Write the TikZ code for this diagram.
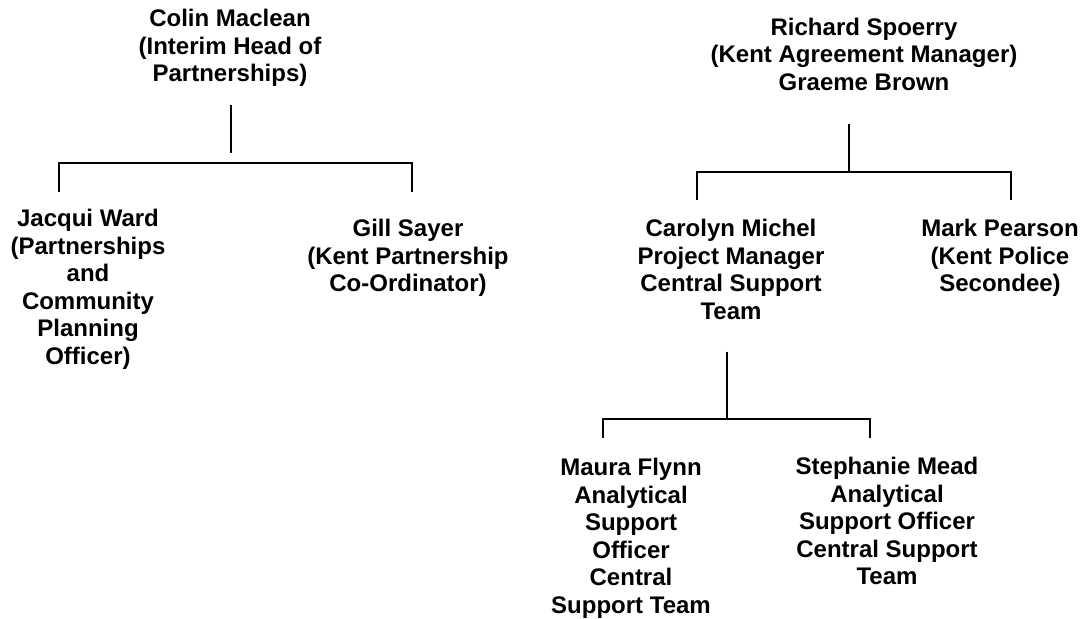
\documentclass[tikz,border=0pt]{standalone}
\usepackage{fontspec}
\setmainfont{Liberation Sans}
\usetikzlibrary{positioning}
\tikzset{
    person/.style = {anchor=north, inner sep=0pt, align=center,
        font=\fontsize{12}{13.75}\selectfont\bfseries,
        execute at begin node=\strut},
    input/.style = {coordinate},
    line/.style = {draw, line width=0.9pt}
}

\begin{document}
\begin{tikzpicture}[x=0.5pt, y=-0.5pt]
    \useasboundingbox (0,0) rectangle (1085,619);
    % left tree
    \node [person, name=colin] at (230,8.75) {Colin Maclean\\(Interim Head of\\Partnerships)};
    \node [person, name=jacqui] at (88,208.75) {Jacqui Ward\\(Partnerships\\and\\Community\\Planning\\Officer)};
    \node [person, name=gill] at (408,218.75) {Gill Sayer\\(Kent Partnership\\Co-Ordinator)};
    \node [input, name=colinout] at (231,105) {};
    \node [input, name=colinend] at (231,153) {};
    \node [input, name=colinbar] at (231,163) {};
    \node [input, name=jacquiin] at (59,192) {};
    \node [input, name=gillin] at (412,192) {};
    \draw [line] (colinout) -- (colinend);
    \draw [line] (jacquiin) |- (colinbar) -| (gillin);
    % right tree
    \node [person, name=richard] at (864,17.25) {Richard Spoerry\\(Kent Agreement Manager)\\Graeme Brown};
    \node [person, name=carolyn] at (731,218.75) {Carolyn Michel\\Project Manager\\Central Support\\Team};
    \node [person, name=mark] at (1000,218.75) {Mark Pearson\\(Kent Police\\Secondee)};
    \node [input, name=richardout] at (849,124) {};
    \node [input, name=richardbar] at (849,172) {};
    \node [input, name=carolynin] at (697,200) {};
    \node [input, name=markin] at (1011,200) {};
    \draw [line] (richardout) -- (richardbar);
    \draw [line] (carolynin) |- (richardbar) -| (markin);
    % central support team
    \node [person, name=maura] at (631,457.75) {Maura Flynn\\Analytical\\Support\\Officer\\Central\\Support Team};
    \node [person, name=stephanie] at (887,456.75) {Stephanie Mead\\Analytical\\Support Officer\\Central Support\\Team};
    \node [input, name=carolynout] at (727,352) {};
    \node [input, name=carolynbar] at (727,419) {};
    \node [input, name=maurain] at (603,438) {};
    \node [input, name=stephaniein] at (870,438) {};
    \draw [line] (carolynout) -- (carolynbar);
    \draw [line] (maurain) |- (carolynbar) -| (stephaniein);
\end{tikzpicture}
\end{document}
